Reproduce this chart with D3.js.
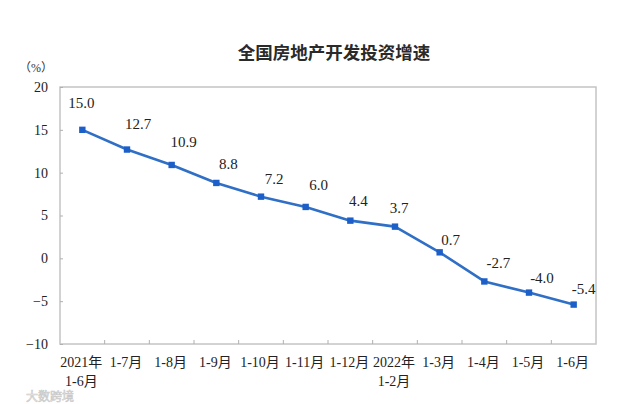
<!DOCTYPE html>
<html>
<head>
<meta charset="utf-8">
<script src="https://cdn.jsdelivr.net/npm/d3@7/dist/d3.min.js"></script>
<style>
  html, body { margin: 0; padding: 0; background: #fff; }
  svg { display: block; }
</style>
</head>
<body>
<svg id="chart" width="640" height="404"></svg>
<script>
// ---- data ----
const categories = [
  ["2021年", "1-6月"], ["1-7月"], ["1-8月"], ["1-9月"], ["1-10月"], ["1-11月"],
  ["1-12月"], ["2022年", "1-2月"], ["1-3月"], ["1-4月"], ["1-5月"], ["1-6月"]
];
const growth = [15.0, 12.7, 10.9, 8.8, 7.2, 6.0, 4.4, 3.7, 0.7, -2.7, -4.0, -5.4];
const yTicks = [-10, -5, 0, 5, 10, 15, 20];
const titleText = "全国房地产开发投资增速";
const unitText = "（%）";

// label placement offsets (annotation styling, relative to point)
const labelDx = [-1, 11, 12, 12, 13, 13, 8, 4, 11, 14, 13, 10];
const labelDy = [-27, -26, -23, -19, -18, -22, -20, -19, -12, -18, -15, -16];

(function () {
  const svg = d3.select("#chart");
  const pLeft = 60, pRight = 596, pTop = 87, pBottom = 344;
  const serif = "'Liberation Serif', 'Times New Roman', 'Noto Sans CJK SC', serif";

  const x = d3.scaleBand().domain(d3.range(categories.length)).range([pLeft, pRight]);
  const y = d3.scaleLinear().domain([-10, 20]).range([pBottom, pTop]);

  // title
  svg.append("text")
    .attr("x", 334).attr("y", 51)
    .attr("text-anchor", "middle").attr("dominant-baseline", "central")
    .style("font-family", "'Noto Sans CJK SC', sans-serif")
    .style("font-size", "17.5px").style("font-weight", "bold").style("fill", "#2a2a2a")
    .text(titleText);

  // unit
  svg.append("text")
    .attr("x", 36).attr("y", 68)
    .attr("text-anchor", "middle").attr("dominant-baseline", "central")
    .style("font-family", serif).style("font-size", "12px").style("fill", "#333")
    .text(unitText);

  // plot frame
  svg.append("rect")
    .attr("x", pLeft).attr("y", pTop)
    .attr("width", pRight - pLeft).attr("height", pBottom - pTop)
    .attr("fill", "none").attr("stroke", "#c4c4c4").attr("stroke-width", 1.5);

  // y axis
  const yAxis = d3.axisLeft(y).tickValues(yTicks).tickSize(-3).tickPadding(12)
    .tickFormat(d3.format("d"));
  const gy = svg.append("g").attr("transform", `translate(${pLeft},0)`).call(yAxis);
  gy.select(".domain").remove();
  gy.selectAll(".tick line").attr("stroke", "#b0b0b0");
  gy.selectAll(".tick text")
    .style("font-family", serif).style("font-size", "14px").style("fill", "#222");

  // x axis ticks (between bands, inward)
  const boundaries = d3.range(1, categories.length).map(i => x(i));
  svg.append("g").selectAll("line").data(boundaries).join("line")
    .attr("x1", d => d).attr("x2", d => d)
    .attr("y1", pBottom).attr("y2", pBottom - 4)
    .attr("stroke", "#b0b0b0").attr("stroke-width", 1);

  // x labels
  const xl = svg.append("g").selectAll("text").data(categories).join("text")
    .attr("text-anchor", "middle")
    .style("font-family", serif).style("font-size", "14px").style("fill", "#222");
  xl.each(function (lines, i) {
    const t = d3.select(this);
    lines.forEach((ln, k) => {
      t.append("tspan")
        .attr("x", x(i) + x.bandwidth() / 2 - 1)
        .attr("y", 367 + k * 19)
        .text(ln);
    });
  });

  // line
  const cx = i => x(i) + x.bandwidth() / 2;
  const line = d3.line().x((d, i) => cx(i)).y(d => y(d));
  svg.append("path")
    .datum(growth)
    .attr("d", line)
    .attr("fill", "none").attr("stroke", "#2f6fc6").attr("stroke-width", 2.6)
    .attr("stroke-linejoin", "round");

  // markers
  svg.append("g").selectAll("rect").data(growth).join("rect")
    .attr("x", (d, i) => cx(i) - 3.2).attr("y", d => y(d) - 3.2)
    .attr("width", 6.4).attr("height", 6.4)
    .attr("fill", "#1d5fc8");

  // value labels
  svg.append("g").selectAll("text").data(growth).join("text")
    .attr("x", (d, i) => cx(i) + labelDx[i])
    .attr("y", (d, i) => y(d) + labelDy[i])
    .attr("text-anchor", "middle").attr("dominant-baseline", "central")
    .style("font-family", serif).style("font-size", "15px").style("fill", "#222")
    .text(d => d.toFixed(1));

  // watermark
  svg.append("text")
    .attr("x", 26).attr("y", 395)
    .attr("dominant-baseline", "central")
    .style("font-family", "'Noto Sans CJK SC', sans-serif")
    .style("font-size", "12px").style("fill", "#f4f4f4")
    .style("stroke", "#c8c8c8").style("stroke-width", 0.6)
    .text("大数跨境");
})();
</script>
</body>
</html>
